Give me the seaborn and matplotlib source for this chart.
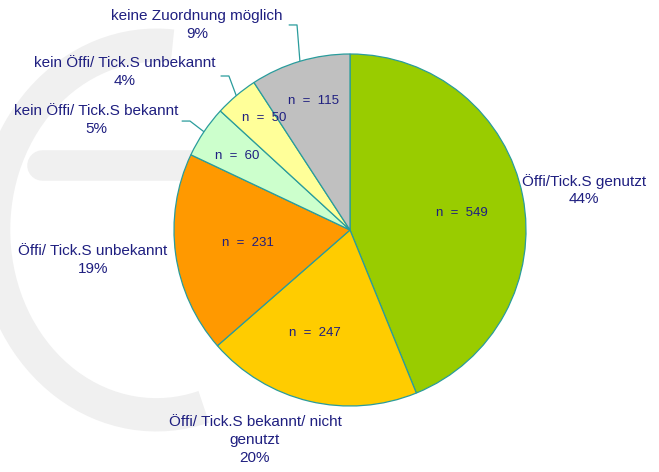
import numpy as np
import seaborn as sns
import matplotlib.pyplot as plt
from matplotlib.patches import Arc

# Values
categories = [
    "Öffi/Tick.S genutzt",
    "Öffi/ Tick.S bekannt/ nicht\ngenutzt",
    "Öffi/ Tick.S unbekannt",
    "kein Öffi/ Tick.S bekannt",
    "kein Öffi/ Tick.S unbekannt",
    "keine Zuordnung möglich",
]
counts = [549, 247, 231, 60, 50, 115]
percents = [44, 20, 19, 5, 4, 9]
colors = ["#99CC00", "#FFCC00", "#FF9900", "#CCFFCC", "#FFFF99", "#C0C0C0"]

# layout (data units, pie radius = 1)
label_pos = [(1.33, 0.227), (-0.54, -1.193), (-1.46, -0.17),
             (-1.443, 0.625), (-1.278, 0.898), (-0.869, 1.165)]
n_pos = [(0.637, 0.097), (-0.199, -0.585), (-0.580, -0.074),
         (-0.642, 0.420), (-0.489, 0.636), (-0.205, 0.733)]
elbows = [None, None, None, (-0.909, 0.619), (-0.688, 0.875), (-0.301, 1.165)]

sns.set_theme(style="white")
plt.rcParams["font.family"] = ["Liberation Sans", "DejaVu Sans"]

text_col = "#1F1F80"
edge_col = "#2A9C9C"

fig = plt.figure(figsize=(6.59, 4.72), dpi=100)
ax = fig.add_axes([0, 0, 1, 1])

wedges, _ = ax.pie(counts, colors=colors, startangle=90, counterclock=False,
                   radius=1, center=(0, 0),
                   wedgeprops=dict(edgecolor=edge_col, linewidth=0.9))
for w in wedges:
    w.set_zorder(2)

ax.set_xlim(-350 / 176, (659 - 350) / 176)
ax.set_ylim(-(472 - 230) / 176, 230 / 176)
ax.set_aspect("equal")
ax.axis("off")

# faint watermark in the background
wm = "#F0F0F0"
ax.add_patch(Arc((-1.1, 0.0), 1.85, 2.1, theta1=85, theta2=285,
                 lw=24, color=wm, zorder=0))
ax.plot([-1.75, -0.2], [0.37, 0.37], lw=22, color=wm,
        solid_capstyle="round", zorder=0)

for i, w in enumerate(wedges):
    ax.text(*n_pos[i], f"n  =  {counts[i]}", ha="center", va="center",
            fontsize=9.5, color=text_col, zorder=3)
    ax.text(*label_pos[i], f"{categories[i]}\n{percents[i]}%", ha="center",
            va="center", fontsize=11, color=text_col, linespacing=1.35,
            zorder=3)
    if elbows[i] is not None:
        ang = np.deg2rad((w.theta1 + w.theta2) / 2)
        ex, ey = np.cos(ang), np.sin(ang)
        bx, by = elbows[i]
        ax.plot([ex, bx, bx - 0.045], [ey, by, by], color=edge_col,
                lw=0.9, zorder=1)

fig.savefig("out.png", dpi=100)
